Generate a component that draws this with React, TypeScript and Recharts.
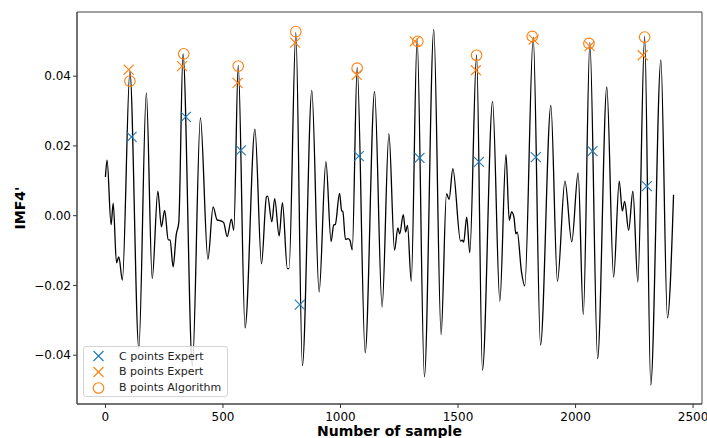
import React from 'react';
import { ComposedChart, Line, Scatter, XAxis, YAxis, Label, ReferenceArea } from 'recharts';

// ---- data ----
const sampleIdx = [
  0, 7, 24, 33, 47, 57, 72, 104, 142, 174, 199, 223, 238, 252, 267, 275, 288, 301, 312, 330,
  370, 404, 436, 458, 475, 490, 503, 518, 536, 546, 565, 594, 636, 664, 685, 690, 708, 720, 739, 753,
  774, 781, 810, 838, 878, 909, 938, 960, 971, 978, 996, 1005, 1010, 1021, 1032, 1040, 1050, 1071, 1105, 1145,
  1177, 1206, 1230, 1244, 1252, 1267, 1277, 1285, 1301, 1326, 1357, 1397, 1428, 1451, 1462, 1478, 1511, 1518, 1524, 1537,
  1550, 1579, 1604, 1647, 1678, 1704, 1718, 1728, 1738, 1746, 1752, 1770, 1784, 1820, 1851, 1895, 1923, 1955, 1984, 2011,
  2033, 2061, 2094, 2133, 2162, 2186, 2199, 2209, 2226, 2244, 2265, 2294, 2320, 2363, 2391, 2417,
];
const imf4 = [
  0.0111, 0.0159, -0.0026, 0.0036, -0.0135, -0.0118, -0.0185, 0.0414, -0.038, 0.0352, -0.018, 0.007, -0.0032, 0.0015, -0.0069, -0.007, -0.0147, -0.0055, -0.002, 0.0464,
  -0.043, 0.028, -0.0125, 0.0025, -0.0012, -0.0015, -0.002, -0.006, -0.001, -0.0042, 0.0431, -0.0322, 0.0248, -0.0138, 0.0054, 0.0056, -0.0018, 0.0049, -0.0058, 0.0037,
  -0.0152, -0.0152, 0.0525, -0.043, 0.0359, -0.0219, 0.0155, -0.0074, -0.0027, -0.0025, 0.0064, 0.0014, 0.0012, -0.0068, -0.0066, -0.007, -0.0098, 0.0425, -0.0393, 0.0356,
  -0.0262, 0.0235, -0.0099, -0.0035, -0.0052, 0.0003, -0.0047, -0.0028, -0.0188, 0.0507, -0.0462, 0.0534, -0.0341, 0.0063, 0.0047, 0.0135, -0.0073, -0.007, -0.0076, -0.0004,
  -0.0106, 0.0461, -0.0443, 0.0328, -0.0245, 0.0175, -0.0013, 0.0011, -0.0004, -0.0052, -0.0047, -0.0161, -0.0201, 0.0512, -0.0371, 0.0316, -0.0188, 0.0099, -0.0075, 0.0123,
  -0.0284, 0.0496, -0.041, 0.0369, -0.0176, 0.0099, 0.0013, 0.0041, -0.0042, 0.007, -0.019, 0.0515, -0.0486, 0.0447, -0.0293, 0.006,
];

const cExpertIdx = [111, 342, 576, 827, 1078, 1336, 1589, 1831, 2072, 2303];
const cExpertVal = [0.0226, 0.0283, 0.0187, -0.0255, 0.0171, 0.0166, 0.0154, 0.0168, 0.0185, 0.0085];
const bExpertIdx = [99, 326, 562, 807, 1069, 1316, 1576, 1822, 2060, 2286];
const bExpertVal = [0.0419, 0.0429, 0.0381, 0.0496, 0.0404, 0.05, 0.0417, 0.0505, 0.0486, 0.046];
const bAlgoIdx = [104, 333, 565, 810, 1071, 1329, 1579, 1816, 2057, 2294];
const bAlgoVal = [0.0386, 0.0464, 0.0429, 0.0528, 0.0423, 0.05, 0.046, 0.0514, 0.0494, 0.0512];

const xTicks = [0, 500, 1000, 1500, 2000, 2500];
const yTicks = [-0.04, -0.02, 0, 0.02, 0.04];

const seriesNames = ['C points Expert', 'B points Expert', 'B points Algorithm'];
const xLabelText = 'Number of sample';
const yLabelText = "IMF4'";

// ---- build tables ----
const zip = (xs: number[], ys: number[]) => xs.map((s, i) => ({ s, v: ys[i] }));
const signalData = zip(sampleIdx, imf4);
const cExpertData = zip(cExpertIdx, cExpertVal);
const bExpertData = zip(bExpertIdx, bExpertVal);
const bAlgoData = zip(bAlgoIdx, bAlgoVal);

const BLUE = '#1f77b4';
const ORANGE = '#ff7f0e';
const FONT = '"DejaVu Sans", sans-serif';

const W = 707;
const H = 438;

const makeCross = (color: string) => (props: any) => {
  const { cx, cy } = props;
  const r = 5;
  return (
    <g>
      <line x1={cx - r} y1={cy - r} x2={cx + r} y2={cy + r} stroke={color} strokeWidth={1.1} />
      <line x1={cx - r} y1={cy + r} x2={cx + r} y2={cy - r} stroke={color} strokeWidth={1.1} />
    </g>
  );
};
const makeCircle = (color: string) => (props: any) => {
  const { cx, cy } = props;
  return <circle cx={cx} cy={cy} r={5.3} fill="none" stroke={color} strokeWidth={1.1} />;
};

const fmtY = (v: number) => {
  const a = Math.abs(v).toFixed(2);
  return v < -1e-9 ? '\u2212' + a : a;
};

const YLab = (props: any) => {
  const vb = props.viewBox || {};
  const cy = (vb.y ?? 12) + (vb.height ?? 392) / 2;
  const x = 25;
  return (
    <text x={x} y={cy} transform={`rotate(-90 ${x} ${cy})`} textAnchor="middle"
      fontFamily={FONT} fontWeight="bold" fontSize={14} fill="#000">
      {yLabelText}
    </text>
  );
};
const XLab = (props: any) => {
  const vb = props.viewBox || {};
  const cx = (vb.x ?? 77) + (vb.width ?? 625) / 2;
  return (
    <text x={cx} y={436} textAnchor="middle" fontFamily={FONT} fontWeight="bold" fontSize={14} fill="#000">
      {xLabelText}
    </text>
  );
};

const legendMarkers = [
  { kind: 'x', color: BLUE },
  { kind: 'x', color: ORANGE },
  { kind: 'o', color: ORANGE },
];

const LegendBox = () => (
  <div
    style={{
      position: 'absolute', left: 83, top: 346, width: 145, height: 51,
      border: '1px solid #d5d5d5', borderRadius: 3, background: 'rgba(255,255,255,0.8)',
      boxSizing: 'border-box', fontFamily: FONT, fontSize: 11, color: '#222',
    }}
  >
    {seriesNames.map((name, i) => (
      <div key={name} style={{ position: 'absolute', left: 0, top: 1 + i * 15.8, height: 16, display: 'flex', alignItems: 'center' }}>
        <svg width={30} height={16} style={{ display: 'block' }}>
          {legendMarkers[i].kind === 'x' ? (
            <g>
              <line x1={9.5} y1={3} x2={19.5} y2={13} stroke={legendMarkers[i].color} strokeWidth={1.1} />
              <line x1={9.5} y1={13} x2={19.5} y2={3} stroke={legendMarkers[i].color} strokeWidth={1.1} />
            </g>
          ) : (
            <circle cx={14.5} cy={8} r={5.3} fill="none" stroke={legendMarkers[i].color} strokeWidth={1.1} />
          )}
        </svg>
        <span style={{ marginLeft: 5, whiteSpace: 'nowrap' }}>{name}</span>
      </div>
    ))}
  </div>
);

const tickStyle = { fontFamily: FONT, fontSize: 12, fill: '#000' };
const X_DOMAIN: [number, number] = [-121, 2538];
const Y_DOMAIN: [number, number] = [-0.054, 0.0584];

export default function App() {
  return (
    <div style={{ position: 'absolute', left: 0, top: 0, width: W, height: H, background: '#fff' }}>
      <ComposedChart width={W} height={H} margin={{ top: 12, right: 5, bottom: 4, left: 0 }}>
        <XAxis
          xAxisId="main" dataKey="s" type="number" domain={X_DOMAIN} ticks={xTicks}
          allowDataOverflow height={30} tick={tickStyle} tickSize={4} tickMargin={4}
          stroke="#333" axisLine={{ stroke: '#444' }} tickLine={{ stroke: '#333' }}
          label={<Label content={<XLab />} />}
        />
        <YAxis
          yAxisId="main" dataKey="v" type="number" domain={Y_DOMAIN} ticks={yTicks}
          allowDataOverflow width={77} tick={tickStyle} tickSize={4} tickMargin={2}
          tickFormatter={fmtY} axisLine={{ stroke: '#444' }} tickLine={{ stroke: '#333' }}
          label={<Label content={<YLab />} />}
        />
        <ReferenceArea xAxisId="main" yAxisId="main" x1={X_DOMAIN[0]} x2={X_DOMAIN[1]}
          y1={Y_DOMAIN[0]} y2={Y_DOMAIN[1]} fill="none" fillOpacity={0} stroke="#444" strokeWidth={1} ifOverflow="visible" />
        <Line
          xAxisId="main" yAxisId="main" data={signalData} dataKey="v" type="monotone"
          stroke="#000" strokeWidth={1.3} dot={false} isAnimationActive={false}
        />
        <Scatter xAxisId="main" yAxisId="main" name={seriesNames[0]} data={cExpertData} dataKey="v"
          shape={makeCross(BLUE)} isAnimationActive={false} />
        <Scatter xAxisId="main" yAxisId="main" name={seriesNames[1]} data={bExpertData} dataKey="v"
          shape={makeCross(ORANGE)} isAnimationActive={false} />
        <Scatter xAxisId="main" yAxisId="main" name={seriesNames[2]} data={bAlgoData} dataKey="v"
          shape={makeCircle(ORANGE)} isAnimationActive={false} />
      </ComposedChart>
      <LegendBox />
    </div>
  );
}
